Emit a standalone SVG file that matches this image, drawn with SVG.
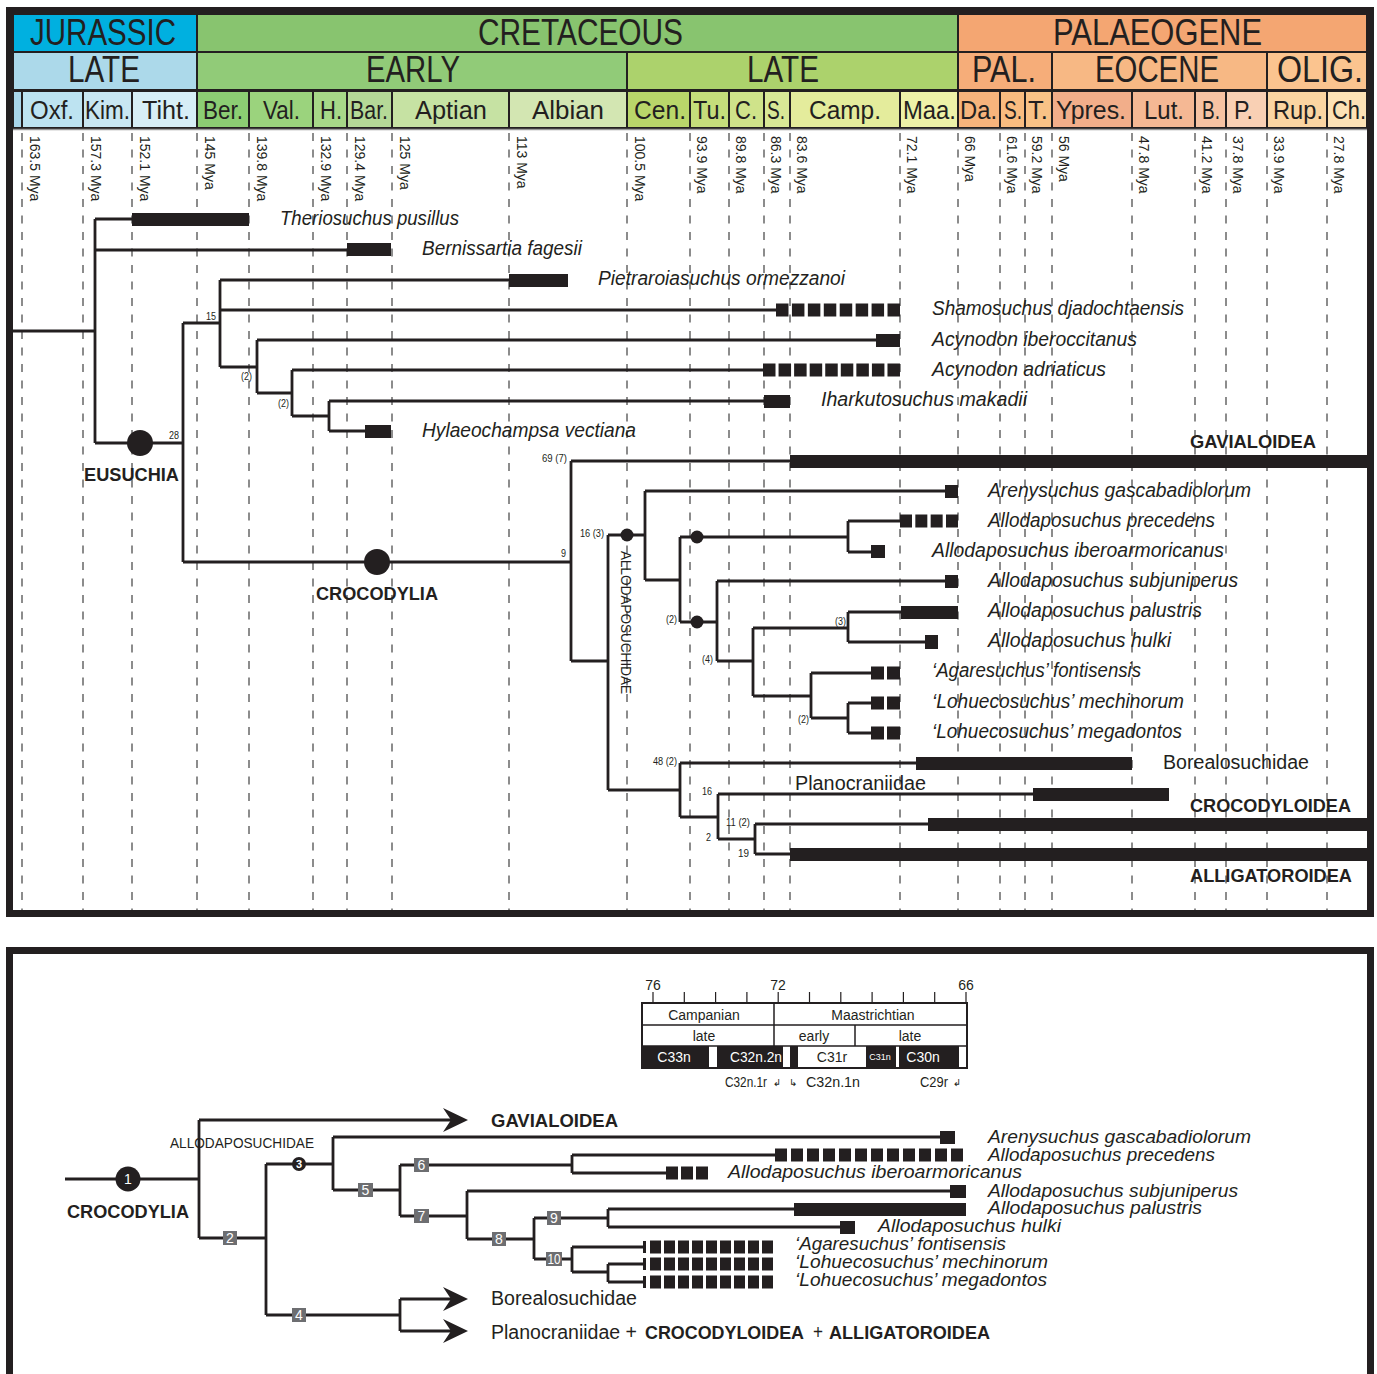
<svg xmlns="http://www.w3.org/2000/svg" width="1377" height="1374" viewBox="0 0 1377 1374">
<defs>
<style>
text{font-family:"Liberation Sans Narrow","Liberation Sans",Arial,sans-serif;fill:#231f20}
.h1{font-size:36px}
.h3{font-size:26px}
.mya{font-size:14px;fill:#9f9f9f}
.sp{font-size:20px;font-style:italic}
.sb{font-size:18.5px;font-style:italic}
.rg{font-size:20px}
.bd{font-size:19px;font-weight:bold}
.nl{font-size:10px}
.br{fill:none;stroke:#231f20;stroke-width:2.8}
.bar{fill:#231f20}
.dash{stroke:#8c8c8c;stroke-width:2;stroke-dasharray:8 8.5}
.cell{stroke:#231f20;stroke-width:2}
.box{fill:#6d6e71}
.bn{font-size:14px;fill:#fff;text-anchor:middle}
.mg{font-size:14px}
.mw{font-size:14px;fill:#fff;text-anchor:middle}
.ar{font-family:"DejaVu Sans",sans-serif;font-size:10px}
</style>
<path id="arr" d="M-25,-12 L0,0 L-25,12 L-17,0 Z" fill="#231f20"/>
</defs>
<rect x="0" y="0" width="1377" height="1374" fill="#fff"/>

<!-- ===== TOP PANEL ===== -->
<g id="timescale">
<rect class="cell" x="13" y="14" width="184" height="38" fill="#00b0e0"/>
<rect class="cell" x="197" y="14" width="761" height="38" fill="#88c46f"/>
<rect class="cell" x="958" y="14" width="409" height="38" fill="#f4a672"/>
<rect class="cell" x="13" y="52" width="184" height="38" fill="#acd9ea"/>
<rect class="cell" x="197" y="52" width="430" height="38" fill="#91cb78"/>
<rect class="cell" x="627" y="52" width="331" height="38" fill="#acd26c"/>
<rect class="cell" x="958" y="52" width="94" height="38" fill="#f6ad79"/>
<rect class="cell" x="1052" y="52" width="215" height="38" fill="#f7b884"/>
<rect class="cell" x="1267" y="52" width="100" height="38" fill="#fbc48f"/>
<rect class="cell" x="13" y="91" width="9" height="37" fill="#a9d6ea"/>
<rect class="cell" x="22" y="91" width="61" height="37" fill="#bde3f1"/>
<rect class="cell" x="83" y="91" width="49" height="37" fill="#c8e6f2"/>
<rect class="cell" x="132" y="91" width="65" height="37" fill="#d7eef6"/>
<rect class="cell" x="197" y="91" width="52" height="37" fill="#8ccd73"/>
<rect class="cell" x="249" y="91" width="64" height="37" fill="#9bd37d"/>
<rect class="cell" x="313" y="91" width="34" height="37" fill="#a7d888"/>
<rect class="cell" x="347" y="91" width="45" height="37" fill="#b5d997"/>
<rect class="cell" x="392" y="91" width="117" height="37" fill="#c6e2a3"/>
<rect class="cell" x="509" y="91" width="118" height="37" fill="#d3e6b2"/>
<rect class="cell" x="627" y="91" width="63" height="37" fill="#b9d66a"/>
<rect class="cell" x="690" y="91" width="39" height="37" fill="#c5dd7b"/>
<rect class="cell" x="729" y="91" width="35" height="37" fill="#cfe38a"/>
<rect class="cell" x="764" y="91" width="26" height="37" fill="#d8e896"/>
<rect class="cell" x="790" y="91" width="110" height="37" fill="#e4ec9c"/>
<rect class="cell" x="900" y="91" width="58" height="37" fill="#eef2a8"/>
<rect class="cell" x="958" y="91" width="42" height="37" fill="#f7b47c"/>
<rect class="cell" x="1000" y="91" width="25" height="37" fill="#f9bc80"/>
<rect class="cell" x="1025" y="91" width="27" height="37" fill="#f9c286"/>
<rect class="cell" x="1052" y="91" width="80" height="37" fill="#f2ae8a"/>
<rect class="cell" x="1132" y="91" width="63" height="37" fill="#f5b894"/>
<rect class="cell" x="1195" y="91" width="31" height="37" fill="#f7c3a3"/>
<rect class="cell" x="1226" y="91" width="41" height="37" fill="#f9d0b4"/>
<rect class="cell" x="1267" y="91" width="60" height="37" fill="#fbd5a2"/>
<rect class="cell" x="1327" y="91" width="40" height="37" fill="#fde2b6"/>
<line x1="13" y1="129.5" x2="1367" y2="129.5" stroke="#9a9a9a" stroke-width="1.5"/>
<g class="h1">
<text x="30" y="45" textLength="146" lengthAdjust="spacingAndGlyphs">JURASSIC</text>
<text x="478" y="45" textLength="205" lengthAdjust="spacingAndGlyphs">CRETACEOUS</text>
<text x="1053" y="45" textLength="209" lengthAdjust="spacingAndGlyphs">PALAEOGENE</text>
<text x="68" y="82" textLength="72" lengthAdjust="spacingAndGlyphs">LATE</text>
<text x="366" y="82" textLength="94" lengthAdjust="spacingAndGlyphs">EARLY</text>
<text x="747" y="82" textLength="72" lengthAdjust="spacingAndGlyphs">LATE</text>
<text x="972" y="82" textLength="64" lengthAdjust="spacingAndGlyphs">PAL.</text>
<text x="1095" y="82" textLength="124" lengthAdjust="spacingAndGlyphs">EOCENE</text>
<text x="1277" y="82" textLength="86" lengthAdjust="spacingAndGlyphs">OLIG.</text>
</g>
<g class="h3">
<text x="30" y="119" textLength="44" lengthAdjust="spacingAndGlyphs">Oxf.</text>
<text x="85" y="119" textLength="45" lengthAdjust="spacingAndGlyphs">Kim.</text>
<text x="142" y="119" textLength="48" lengthAdjust="spacingAndGlyphs">Tiht.</text>
<text x="203" y="119" textLength="40" lengthAdjust="spacingAndGlyphs">Ber.</text>
<text x="263" y="119" textLength="37" lengthAdjust="spacingAndGlyphs">Val.</text>
<text x="320" y="119" textLength="22" lengthAdjust="spacingAndGlyphs">H.</text>
<text x="350" y="119" textLength="38" lengthAdjust="spacingAndGlyphs">Bar.</text>
<text x="415" y="119" textLength="72" lengthAdjust="spacingAndGlyphs">Aptian</text>
<text x="532" y="119" textLength="72" lengthAdjust="spacingAndGlyphs">Albian</text>
<text x="634" y="119" textLength="52" lengthAdjust="spacingAndGlyphs">Cen.</text>
<text x="693" y="119" textLength="33" lengthAdjust="spacingAndGlyphs">Tu.</text>
<text x="735" y="119" textLength="22" lengthAdjust="spacingAndGlyphs">C.</text>
<text x="767" y="119" textLength="18" lengthAdjust="spacingAndGlyphs">S.</text>
<text x="809" y="119" textLength="72" lengthAdjust="spacingAndGlyphs">Camp.</text>
<text x="903" y="119" textLength="53" lengthAdjust="spacingAndGlyphs">Maa.</text>
<text x="960" y="119" textLength="37" lengthAdjust="spacingAndGlyphs">Da.</text>
<text x="1004" y="119" textLength="18" lengthAdjust="spacingAndGlyphs">S.</text>
<text x="1028" y="119" textLength="20" lengthAdjust="spacingAndGlyphs">T.</text>
<text x="1056" y="119" textLength="70" lengthAdjust="spacingAndGlyphs">Ypres.</text>
<text x="1144" y="119" textLength="40" lengthAdjust="spacingAndGlyphs">Lut.</text>
<text x="1202" y="119" textLength="18" lengthAdjust="spacingAndGlyphs">B.</text>
<text x="1234" y="119" textLength="19" lengthAdjust="spacingAndGlyphs">P.</text>
<text x="1273" y="119" textLength="50" lengthAdjust="spacingAndGlyphs">Rup.</text>
<text x="1332" y="119" textLength="34" lengthAdjust="spacingAndGlyphs">Ch.</text>
</g>
</g>

<g id="age-lines">
<g class="dash">
<line x1="22" y1="133" x2="22" y2="910"/><line x1="83" y1="133" x2="83" y2="910"/>
<line x1="132" y1="133" x2="132" y2="910"/><line x1="197" y1="133" x2="197" y2="910"/>
<line x1="249" y1="133" x2="249" y2="910"/><line x1="313" y1="133" x2="313" y2="910"/>
<line x1="347" y1="133" x2="347" y2="910"/><line x1="392" y1="133" x2="392" y2="910"/>
<line x1="509" y1="133" x2="509" y2="910"/><line x1="627" y1="133" x2="627" y2="910"/>
<line x1="690" y1="133" x2="690" y2="910"/><line x1="729" y1="133" x2="729" y2="910"/>
<line x1="764" y1="133" x2="764" y2="910"/><line x1="790" y1="133" x2="790" y2="910"/>
<line x1="900" y1="133" x2="900" y2="910"/><line x1="958" y1="133" x2="958" y2="910"/>
<line x1="1000" y1="133" x2="1000" y2="910"/><line x1="1025" y1="133" x2="1025" y2="910"/>
<line x1="1052" y1="133" x2="1052" y2="910"/><line x1="1132" y1="133" x2="1132" y2="910"/>
<line x1="1195" y1="133" x2="1195" y2="910"/><line x1="1226" y1="133" x2="1226" y2="910"/>
<line x1="1267" y1="133" x2="1267" y2="910"/><line x1="1327" y1="133" x2="1327" y2="910"/>
</g>
<g class="mya">
<text transform="translate(30,136) rotate(90)">163.5 Mya</text>
<text transform="translate(91,136) rotate(90)">157.3 Mya</text>
<text transform="translate(140,136) rotate(90)">152.1 Mya</text>
<text transform="translate(205,136) rotate(90)">145 Mya</text>
<text transform="translate(257,136) rotate(90)">139.8 Mya</text>
<text transform="translate(321,136) rotate(90)">132.9 Mya</text>
<text transform="translate(355,136) rotate(90)">129.4 Mya</text>
<text transform="translate(400,136) rotate(90)">125 Mya</text>
<text transform="translate(517,136) rotate(90)">113 Mya</text>
<text transform="translate(635,136) rotate(90)">100.5 Mya</text>
<text transform="translate(697,136) rotate(90)">93.9 Mya</text>
<text transform="translate(736,136) rotate(90)">89.8 Mya</text>
<text transform="translate(771,136) rotate(90)">86.3 Mya</text>
<text transform="translate(797,136) rotate(90)">83.6 Mya</text>
<text transform="translate(907,136) rotate(90)">72.1 Mya</text>
<text transform="translate(965,136) rotate(90)">66 Mya</text>
<text transform="translate(1007,136) rotate(90)">61.6 Mya</text>
<text transform="translate(1032,136) rotate(90)">59.2 Mya</text>
<text transform="translate(1059,136) rotate(90)">56 Mya</text>
<text transform="translate(1139,136) rotate(90)">47.8 Mya</text>
<text transform="translate(1202,136) rotate(90)">41.2 Mya</text>
<text transform="translate(1233,136) rotate(90)">37.8 Mya</text>
<text transform="translate(1274,136) rotate(90)">33.9 Mya</text>
<text transform="translate(1334,136) rotate(90)">27.8 Mya</text>
</g>
</g>

<g id="connectors-top">
<path class="br" d="M13,331H95 M95,219V443 M95,219H132 M95,250H347 M95,443H183
M183,323V562 M183,323H220 M220,280V367 M220,280H509 M220,310H776 M220,367H257
M257,340V393 M257,340H876 M257,393H292 M292,370V416 M292,370H763 M292,416H329
M329,401V431 M329,401H764 M329,431H365
M183,562H571 M571,461V661 M571,461H790 M571,661H608
M608,535V790 M608,535H645 M645,491V580 M645,491H945 M645,580H680
M680,537V622 M680,537H848 M848,521V552 M848,521H900 M848,552H871
M680,622H717 M717,581V661 M717,581H945 M717,661H753
M753,628V696 M753,628H848 M848,612V642 M848,612H901 M848,642H925
M753,696H811 M811,673V718 M811,673H871 M811,718H848 M848,703V733 M848,703H871 M848,733H871
M608,790H680 M680,763V817 M680,763H916 M680,817H718 M718,794V839 M718,794H1033
M718,839H755 M755,824V854 M755,824H928 M755,854H790"/>
</g>

<g id="node-labels-top" class="nl">
<text x="206" y="320" textLength="10" lengthAdjust="spacingAndGlyphs">15</text>
<text x="241" y="380" textLength="11" lengthAdjust="spacingAndGlyphs">(2)</text>
<text x="278" y="407" textLength="11" lengthAdjust="spacingAndGlyphs">(2)</text>
<text x="169" y="439" textLength="10" lengthAdjust="spacingAndGlyphs">28</text>
<text x="542" y="462" textLength="25" lengthAdjust="spacingAndGlyphs">69 (7)</text>
<text x="580" y="537" textLength="24" lengthAdjust="spacingAndGlyphs">16 (3)</text>
<text x="561" y="557" textLength="5" lengthAdjust="spacingAndGlyphs">9</text>
<text x="666" y="623" textLength="11" lengthAdjust="spacingAndGlyphs">(2)</text>
<text x="835" y="625" textLength="11" lengthAdjust="spacingAndGlyphs">(3)</text>
<text x="702" y="663" textLength="11" lengthAdjust="spacingAndGlyphs">(4)</text>
<text x="798" y="723" textLength="11" lengthAdjust="spacingAndGlyphs">(2)</text>
<text x="653" y="765" textLength="24" lengthAdjust="spacingAndGlyphs">48 (2)</text>
<text x="702" y="795" textLength="10" lengthAdjust="spacingAndGlyphs">16</text>
<text x="706" y="841" textLength="5" lengthAdjust="spacingAndGlyphs">2</text>
<text x="726" y="826" textLength="24" lengthAdjust="spacingAndGlyphs">11 (2)</text>
<text x="738" y="857" textLength="11" lengthAdjust="spacingAndGlyphs">19</text>
</g>

<g id="eusuchia"><circle cx="140" cy="443" r="13" fill="#231f20"/><text class="bd" x="84" y="481" textLength="95" lengthAdjust="spacingAndGlyphs">EUSUCHIA</text></g>
<g id="crocodylia"><circle cx="377" cy="562" r="13" fill="#231f20"/><text class="bd" x="316" y="600" textLength="122" lengthAdjust="spacingAndGlyphs">CROCODYLIA</text></g>
<g id="allodaposuchidae"><circle cx="627" cy="535" r="6.5" fill="#231f20"/><text transform="translate(621,551) rotate(90)" style="font-size:14px" textLength="143" lengthAdjust="spacingAndGlyphs">ALLODAPOSUCHIDAE</text></g>
<g id="node-a"><circle cx="697" cy="537" r="6.5" fill="#231f20"/></g>
<g id="node-b"><circle cx="697" cy="622" r="6.5" fill="#231f20"/></g>

<g id="theriosuchus"><rect class="bar" x="132" y="213" width="117" height="13"/><text class="sp" x="280" y="225" textLength="179" lengthAdjust="spacingAndGlyphs">Theriosuchus pusillus</text></g>
<g id="bernissartia"><rect class="bar" x="347" y="243" width="44" height="13"/><text class="sp" x="422" y="255" textLength="160" lengthAdjust="spacingAndGlyphs">Bernissartia fagesii</text></g>
<g id="pietraroiasuchus"><rect class="bar" x="509" y="274" width="59" height="13"/><text class="sp" x="598" y="285" textLength="247" lengthAdjust="spacingAndGlyphs">Pietraroiasuchus ormezzanoi</text></g>
<g id="shamosuchus"><line x1="776" y1="310" x2="900" y2="310" stroke="#231f20" stroke-width="13" stroke-dasharray="12.5 3.43"/><text class="sp" x="932" y="315" textLength="252" lengthAdjust="spacingAndGlyphs">Shamosuchus djadochtaensis</text></g>
<g id="acynodon-iberoccitanus"><rect class="bar" x="876" y="334" width="24" height="13"/><text class="sp" x="932" y="346" textLength="205" lengthAdjust="spacingAndGlyphs">Acynodon iberoccitanus</text></g>
<g id="acynodon-adriaticus"><line x1="763" y1="370" x2="900" y2="370" stroke="#231f20" stroke-width="13" stroke-dasharray="12.5 3.06"/><text class="sp" x="932" y="376" textLength="174" lengthAdjust="spacingAndGlyphs">Acynodon adriaticus</text></g>
<g id="iharkutosuchus"><rect class="bar" x="764" y="395" width="26" height="13"/><text class="sp" x="821" y="406" textLength="206" lengthAdjust="spacingAndGlyphs">Iharkutosuchus makadii</text></g>
<g id="hylaeochampsa"><rect class="bar" x="365" y="425" width="26" height="13"/><text class="sp" x="422" y="437" textLength="214" lengthAdjust="spacingAndGlyphs">Hylaeochampsa vectiana</text></g>
<g id="gavialoidea"><rect class="bar" x="790" y="455" width="577" height="13"/><text class="bd" x="1190" y="448" textLength="126" lengthAdjust="spacingAndGlyphs">GAVIALOIDEA</text></g>
<g id="arenysuchus"><rect class="bar" x="945" y="485" width="13" height="13"/><text class="sp" x="988" y="497" textLength="263" lengthAdjust="spacingAndGlyphs">Arenysuchus gascabadiolorum</text></g>
<g id="precedens"><line x1="900" y1="521" x2="958" y2="521" stroke="#231f20" stroke-width="13" stroke-dasharray="12 3.33"/><text class="sp" x="988" y="527" textLength="227" lengthAdjust="spacingAndGlyphs">Allodaposuchus precedens</text></g>
<g id="iberoarmoricanus"><rect class="bar" x="871" y="545" width="14" height="13"/><text class="sp" x="932" y="557" textLength="292" lengthAdjust="spacingAndGlyphs">Allodaposuchus iberoarmoricanus</text></g>
<g id="subjuniperus"><rect class="bar" x="945" y="575" width="13" height="13"/><text class="sp" x="988" y="587" textLength="250" lengthAdjust="spacingAndGlyphs">Allodaposuchus subjuniperus</text></g>
<g id="palustris"><rect class="bar" x="901" y="606" width="57" height="13"/><text class="sp" x="988" y="617" textLength="214" lengthAdjust="spacingAndGlyphs">Allodaposuchus palustris</text></g>
<g id="hulki"><rect class="bar" x="925" y="635" width="13" height="14"/><text class="sp" x="988" y="647" textLength="183" lengthAdjust="spacingAndGlyphs">Allodaposuchus hulki</text></g>
<g id="fontisensis"><line x1="871" y1="673" x2="900" y2="673" stroke="#231f20" stroke-width="13" stroke-dasharray="13 3"/><text class="sp" x="932" y="677" textLength="209" lengthAdjust="spacingAndGlyphs">‘Agaresuchus’ fontisensis</text></g>
<g id="mechinorum"><line x1="871" y1="703" x2="900" y2="703" stroke="#231f20" stroke-width="13" stroke-dasharray="13 3"/><text class="sp" x="932" y="708" textLength="252" lengthAdjust="spacingAndGlyphs">‘Lohuecosuchus’ mechinorum</text></g>
<g id="megadontos"><line x1="871" y1="733" x2="900" y2="733" stroke="#231f20" stroke-width="13" stroke-dasharray="13 3"/><text class="sp" x="932" y="738" textLength="250" lengthAdjust="spacingAndGlyphs">‘Lohuecosuchus’ megadontos</text></g>
<g id="borealosuchidae"><rect class="bar" x="916" y="757" width="216" height="13"/><text class="rg" x="1163" y="769" textLength="146" lengthAdjust="spacingAndGlyphs">Borealosuchidae</text></g>
<g id="planocraniidae"><rect class="bar" x="1033" y="788" width="136" height="13"/><text class="rg" x="795" y="790" textLength="131" lengthAdjust="spacingAndGlyphs">Planocraniidae</text></g>
<g id="crocodyloidea"><rect class="bar" x="928" y="818" width="439" height="13"/><text class="bd" x="1190" y="812" textLength="161" lengthAdjust="spacingAndGlyphs">CROCODYLOIDEA</text></g>
<g id="alligatoroidea"><rect class="bar" x="790" y="848" width="577" height="13"/><text class="bd" x="1190" y="882" textLength="162" lengthAdjust="spacingAndGlyphs">ALLIGATOROIDEA</text></g>

<rect x="9.5" y="10.5" width="1361" height="903" fill="none" stroke="#231f20" stroke-width="7"/>

<!-- ===== BOTTOM PANEL ===== -->
<rect x="9.5" y="950.5" width="1361" height="460" fill="none" stroke="#231f20" stroke-width="7"/>

<g id="magnetostratigraphy">
<text class="mg" x="653" y="990" text-anchor="middle">76</text>
<text class="mg" x="778" y="990" text-anchor="middle">72</text>
<text class="mg" x="966" y="990" text-anchor="middle">66</text>
<path d="M653,992V1003 M684.3,992V1003 M715.6,992V1003 M746.9,992V1003 M778.2,992V1003 M809.5,992V1003 M840.8,992V1003 M872.1,992V1003 M903.4,992V1003 M934.7,992V1003 M966,992V1003" stroke="#231f20" stroke-width="1.2" fill="none"/>
<rect x="717" y="1046" width="66" height="22" fill="#231f20"/>
<rect x="642" y="1046" width="67" height="22" fill="#231f20"/>
<rect x="790" y="1046" width="8" height="22" fill="#231f20"/>
<rect x="866" y="1046" width="30" height="22" fill="#231f20"/>
<rect x="899" y="1046" width="60" height="22" fill="#231f20"/>
<rect x="642" y="1003" width="325" height="65" fill="none" stroke="#231f20" stroke-width="2"/>
<path d="M642,1025H967 M642,1046H967 M774,1003V1046 M855,1025V1046" stroke="#231f20" stroke-width="1.5" fill="none"/>
<text class="mg" x="704" y="1020" text-anchor="middle">Campanian</text>
<text class="mg" x="873" y="1020" text-anchor="middle">Maastrichtian</text>
<text class="mg" x="704" y="1041" text-anchor="middle">late</text>
<text class="mg" x="814" y="1041" text-anchor="middle">early</text>
<text class="mg" x="910" y="1041" text-anchor="middle">late</text>
<text class="mw" x="674" y="1062">C33n</text>
<text class="mw" x="756" y="1062" textLength="52" lengthAdjust="spacingAndGlyphs">C32n.2n</text>
<text class="mg" x="832" y="1062" text-anchor="middle">C31r</text>
<text x="880" y="1060" text-anchor="middle" style="font-size:9px;fill:#fff">C31n</text>
<text class="mw" x="923" y="1062">C30n</text>
<text class="mg" x="725" y="1087" textLength="42" lengthAdjust="spacingAndGlyphs">C32n.1r</text>
<text class="ar" x="773" y="1086">↲</text>
<text class="ar" x="789" y="1086">↳</text>
<text class="mg" x="806" y="1087" textLength="54" lengthAdjust="spacingAndGlyphs">C32n.1n</text>
<text class="mg" x="920" y="1087" textLength="28" lengthAdjust="spacingAndGlyphs">C29r</text>
<text class="ar" x="953" y="1086">↲</text>
</g>

<g id="connectors-bottom">
<path class="br" d="M65,1179H199 M199,1120V1238 M199,1120H452 M199,1238H266
M266,1164V1315 M266,1164H333 M333,1137V1190 M333,1137H940 M333,1190H400
M400,1165V1216 M400,1165H572 M572,1155V1173 M572,1155H775 M572,1173H666
M400,1216H467 M467,1191V1239 M467,1191H950 M467,1239H534
M534,1218V1259 M534,1218H608 M608,1209V1227 M608,1209H794 M608,1227H840
M534,1259H572 M572,1247V1272 M572,1247H645 M572,1272H608 M608,1264V1282 M608,1264H645 M608,1282H645
M266,1315H400 M400,1299V1331 M400,1299H452 M400,1331H452"/>
<use href="#arr" x="468" y="1120"/>
<use href="#arr" x="468" y="1299"/>
<use href="#arr" x="468" y="1331"/>
</g>

<g id="b-crocodylia"><circle cx="128" cy="1179" r="12.5" fill="#231f20"/><text class="bn" x="128" y="1184">1</text><text class="bd" x="67" y="1218" textLength="122" lengthAdjust="spacingAndGlyphs">CROCODYLIA</text></g>
<g id="b-allodaposuchidae"><circle cx="299" cy="1164" r="7" fill="#231f20"/><text x="299" y="1168" text-anchor="middle" style="font-size:11px;fill:#fff;font-weight:bold">3</text><text x="170" y="1148" style="font-size:14px" textLength="144" lengthAdjust="spacingAndGlyphs">ALLODAPOSUCHIDAE</text></g>
<g id="b-boxes">
<rect class="box" x="223" y="1231" width="14" height="14"/><text class="bn" x="230" y="1243">2</text>
<rect class="box" x="292" y="1308" width="14" height="14"/><text class="bn" x="299" y="1320">4</text>
<rect class="box" x="358" y="1183" width="15" height="14"/><text class="bn" x="365.5" y="1195">5</text>
<rect class="box" x="414" y="1158" width="15" height="14"/><text class="bn" x="421.5" y="1170">6</text>
<rect class="box" x="414" y="1209" width="15" height="14"/><text class="bn" x="421.5" y="1221">7</text>
<rect class="box" x="492" y="1232" width="14" height="14"/><text class="bn" x="499" y="1244">8</text>
<rect class="box" x="547" y="1211" width="14" height="14"/><text class="bn" x="554" y="1223">9</text>
<rect class="box" x="546" y="1252" width="16" height="14"/><text class="bn" x="554" y="1264" textLength="13" lengthAdjust="spacingAndGlyphs">10</text>
</g>
<g id="b-gavialoidea"><text class="bd" x="491" y="1127" textLength="127" lengthAdjust="spacingAndGlyphs">GAVIALOIDEA</text></g>
<g id="b-arenysuchus"><rect class="bar" x="940" y="1131" width="15" height="13"/><text class="sb" x="988" y="1143" textLength="263" lengthAdjust="spacingAndGlyphs">Arenysuchus gascabadiolorum</text></g>
<g id="b-precedens"><line x1="775" y1="1155" x2="963" y2="1155" stroke="#231f20" stroke-width="13" stroke-dasharray="12 4"/><text class="sb" x="988" y="1161" textLength="227" lengthAdjust="spacingAndGlyphs">Allodaposuchus precedens</text></g>
<g id="b-iberoarmoricanus"><line x1="666" y1="1173" x2="708" y2="1173" stroke="#231f20" stroke-width="13" stroke-dasharray="12 3"/><text class="sb" x="728" y="1178" textLength="294" lengthAdjust="spacingAndGlyphs">Allodaposuchus iberoarmoricanus</text></g>
<g id="b-subjuniperus"><rect class="bar" x="950" y="1185" width="16" height="13"/><text class="sb" x="988" y="1197" textLength="250" lengthAdjust="spacingAndGlyphs">Allodaposuchus subjuniperus</text></g>
<g id="b-palustris"><rect class="bar" x="794" y="1203" width="172" height="13"/><text class="sb" x="988" y="1214" textLength="214" lengthAdjust="spacingAndGlyphs">Allodaposuchus palustris</text></g>
<g id="b-hulki"><rect class="bar" x="840" y="1221" width="15" height="13"/><text class="sb" x="878" y="1232" textLength="183" lengthAdjust="spacingAndGlyphs">Allodaposuchus hulki</text></g>
<g id="b-fontisensis"><rect class="bar" x="643" y="1241" width="3" height="12"/><line x1="650" y1="1247" x2="773" y2="1247" stroke="#231f20" stroke-width="13" stroke-dasharray="11 3"/><text class="sb" x="795" y="1250" textLength="211" lengthAdjust="spacingAndGlyphs">‘Agaresuchus’ fontisensis</text></g>
<g id="b-mechinorum"><rect class="bar" x="643" y="1258" width="3" height="12"/><line x1="650" y1="1264" x2="773" y2="1264" stroke="#231f20" stroke-width="13" stroke-dasharray="11 3"/><text class="sb" x="795" y="1268" textLength="253" lengthAdjust="spacingAndGlyphs">‘Lohuecosuchus’ mechinorum</text></g>
<g id="b-megadontos"><rect class="bar" x="643" y="1276" width="3" height="12"/><line x1="650" y1="1282" x2="773" y2="1282" stroke="#231f20" stroke-width="13" stroke-dasharray="11 3"/><text class="sb" x="795" y="1286" textLength="252" lengthAdjust="spacingAndGlyphs">‘Lohuecosuchus’ megadontos</text></g>
<g id="b-borealosuchidae"><text class="rg" x="491" y="1305" textLength="146" lengthAdjust="spacingAndGlyphs">Borealosuchidae</text></g>
<g id="b-rest">
<text class="rg" x="491" y="1339" textLength="146" lengthAdjust="spacingAndGlyphs">Planocraniidae +</text>
<text class="bd" x="645" y="1339" textLength="159" lengthAdjust="spacingAndGlyphs">CROCODYLOIDEA</text>
<text class="rg" x="813" y="1339" textLength="10" lengthAdjust="spacingAndGlyphs">+</text>
<text class="bd" x="829" y="1339" textLength="161" lengthAdjust="spacingAndGlyphs">ALLIGATOROIDEA</text>
</g>
</svg>
